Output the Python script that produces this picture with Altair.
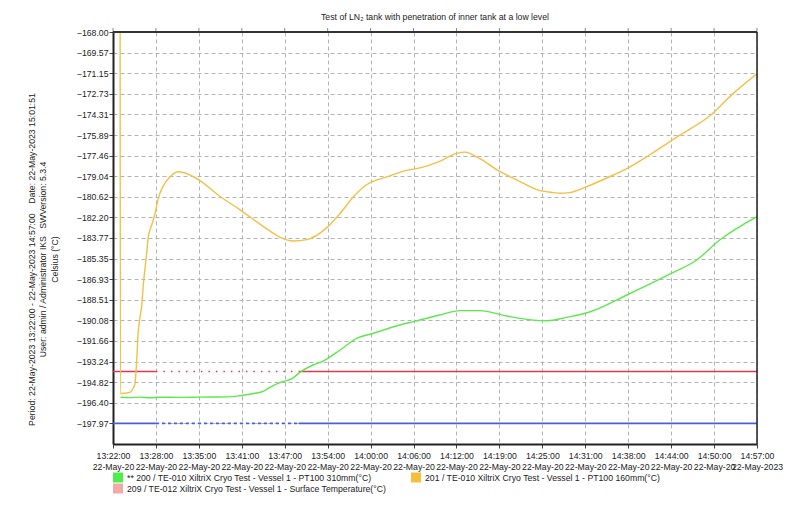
import altair as alt
import pandas as pd

FONT = "Liberation Sans"
FS = 8.7
NB = "\u00a0"

TITLE = "Test of LN\u2082 tank with penetration of inner tank at a low level"
INFO_LINES = [
    "Period: 22-May-2023 13:22:00 - 22-May-2023 14:57:00" + NB * 4 + "Date: 22-May-2023 15:01:51",
    "User: admin / Administrator IKS" + NB * 3 + "SWVersion: 5.3.4",
    "Celsius (\u00b0C)",
]

SERIES = [
    "** 200 / TE-010 XiltriX Cryo Test - Vessel 1 - PT100 310mm(\u00b0C)",
    "201 / TE-010 XiltriX Cryo Test - Vessel 1 - PT100 160mm(\u00b0C)",
    "209 / TE-012 XiltriX Cryo Test - Vessel 1 - Surface Temperature(\u00b0C)",
]
LINE_COLORS = ["#5ee84f", "#f2c046", "#f4a7a7"]
SWATCH_COLORS = ["#4cee4c", "#f5bf3e", "#f4a9a9"]
# legend reads column by column: 200 and 209 in the first column, 201 in the second
LEGEND_ORDER = [0, 2, 1]

# x axis: minutes after 13:22:00
X_TIME_LABELS = ["13:22:00", "13:28:00", "13:35:00", "13:41:00", "13:47:00", "13:54:00",
                 "14:00:00", "14:06:00", "14:12:00", "14:19:00", "14:25:00", "14:31:00",
                 "14:38:00", "14:44:00", "14:50:00", "14:57:00"]
X_DATE_LABELS = ["22-May-20"] * 15 + ["22-May-2023"]
X_SPAN = 95.0

Y_TICK_LABELS = ["-168.00", "-169.57", "-171.15", "-172.73", "-174.31", "-175.89", "-177.46",
                 "-179.04", "-180.62", "-182.20", "-183.77", "-185.35", "-186.93", "-188.51",
                 "-190.08", "-191.66", "-193.24", "-194.82", "-196.40", "-197.97"]
Y_MIN, Y_MAX = -199.55, -168.0

# series 200 (PT100 310mm)
green_t = [1.1, 2.5, 4.0, 5.5, 6.9, 9.9, 12.8, 16.8, 18.7, 20.6, 22.0, 23.2, 24.9, 26.4,
           27.6, 29.5, 31.0, 33.5, 36.0, 38.4, 42.3, 44.3, 48.2, 51.2, 54.1, 58.1, 62.0,
           64.0, 66.9, 70.4, 75.8, 82.2, 86.1, 89.5, 95.0]
green_v = [-195.97, -196.0, -195.96, -196.01, -195.97, -195.98, -195.96, -195.94, -195.85,
           -195.7, -195.55, -195.2, -194.8, -194.55, -194.05, -193.5, -193.2, -192.35,
           -191.45, -191.07, -190.44, -190.18, -189.67, -189.34, -189.34, -189.75, -190.06,
           -190.11, -189.85, -189.42, -188.14, -186.53, -185.46, -183.93, -182.14]

# series 201 (PT100 160mm)
orange_t = [1.05, 1.1, 1.9, 2.5, 2.95, 3.25, 3.5, 3.7, 4.0, 4.25, 4.5, 5.0, 5.2, 5.7, 6.2,
            6.7, 7.4, 8.4, 9.6, 10.6, 12.6, 15.8, 18.7, 22.2, 24.6, 26.6, 28.6, 31.5, 33.5,
            35.5, 37.4, 40.4, 43.3, 45.3, 48.2, 50.7, 51.9, 54.1, 57.1, 59.1, 63.0, 65.0,
            65.9, 67.4, 69.6, 73.8, 76.0, 79.2, 83.6, 88.1, 91.5, 95.0]
orange_v = [-168.0, -195.7, -195.65, -195.6, -195.3, -194.9, -193.1, -191.1, -189.8, -188.9,
            -187.2, -184.8, -183.7, -182.8, -181.9, -180.7, -179.8, -179.1, -178.7, -178.8,
            -179.3, -180.6, -181.6, -182.9, -183.7, -184.0, -183.9, -183.0, -181.9, -180.6,
            -179.7, -179.1, -178.6, -178.4, -177.9, -177.3, -177.2, -177.7, -178.7, -179.2,
            -180.15, -180.3, -180.35, -180.3, -179.9, -178.95, -178.4, -177.4, -175.9,
            -174.4, -172.7, -171.2]

# alarm limits
LIMIT_VALUES = [-194.0, -197.97]
LIMIT_COLORS = ["#e3374f", "#4a5fdc"]
LIMIT_DOT_STYLE = ["reddot", "bluedot"]
LIMIT_BREAKS = [0.0, 6.33, 27.4, 95.0]

# ---------------------------------------------------------------- tables
rows = []
for t, v in zip(green_t, green_v):
    rows.append({"series": SERIES[0], "t": t, "v": v})
for t, v in zip(orange_t, orange_v):
    rows.append({"series": SERIES[1], "t": t, "v": v})
lines_df = pd.DataFrame(rows)

lim_rows = []
for val, col, dot in zip(LIMIT_VALUES, LIMIT_COLORS, LIMIT_DOT_STYLE):
    styles = ["solid", dot, "solid"]
    for i in range(3):
        lim_rows.append({"v": val, "t0": LIMIT_BREAKS[i], "t1": LIMIT_BREAKS[i + 1],
                         "color": col, "style": styles[i]})
lim_df = pd.DataFrame(lim_rows)

x_ticks = [i * X_SPAN / 15 for i in range(16)]
y_ticks = [float(s) for s in Y_TICK_LABELS]
ticks_df = pd.DataFrame({"t": x_ticks})
legend_names = [SERIES[i] for i in LEGEND_ORDER]
legend_colors = [SWATCH_COLORS[i] for i in LEGEND_ORDER]
legend_df = pd.DataFrame({"name": legend_names})
title_df = pd.DataFrame({"label": [TITLE]})

time_arr = "[" + ",".join("'%s'" % s for s in X_TIME_LABELS) + "]"
date_arr = "[" + ",".join("'%s'" % s for s in X_DATE_LABELS) + "]"
idx = "round(datum.value*15/%s)" % X_SPAN
label_expr = "[%s[%s], %s[%s]]" % (time_arr, idx, date_arr, idx)

x_scale = alt.Scale(domain=[0, X_SPAN], nice=False, zero=False)
y_scale = alt.Scale(domain=[Y_MIN, Y_MAX], nice=False, zero=False)

x_axis = alt.Axis(values=x_ticks, labelExpr=label_expr, title=None, grid=True,
                  gridDash=[4, 3], gridColor="#b4b4b4", gridWidth=1,
                  tickSize=4, tickColor="#444", domainColor="#222", domainWidth=2,
                  labelFont=FONT, labelFontSize=FS, labelColor="#222", labelPadding=3,
                  labelLineHeight=11.5, labelOverlap=False, labelFlush=False,
                  labelBaseline="top")
y_axis = alt.Axis(values=y_ticks, format=".2f", grid=True, gridDash=[4, 3],
                  gridColor="#b4b4b4", gridWidth=1, tickSize=4, tickColor="#444",
                  domainColor="#222", domainWidth=2, labelFont=FONT, labelFontSize=FS,
                  labelColor="#222", labelPadding=1, labelOverlap=False, labelFlush=False,
                  title=INFO_LINES, titleAngle=270, titleX=-86, titleY=227,
                  titleAlign="center", titleBaseline="top", titleFont=FONT,
                  titleFontSize=FS, titleFontWeight="normal", titleColor="#222",
                  titleLineHeight=11.5)

base_x = alt.X("t:Q", scale=x_scale, axis=x_axis)
base_y = alt.Y("v:Q", scale=y_scale, axis=y_axis)

limits = alt.Chart(lim_df).mark_rule(strokeWidth=1.6).encode(
    x=alt.X("t0:Q", scale=x_scale, axis=x_axis),
    x2="t1:Q",
    y=alt.Y("v:Q", scale=y_scale, axis=y_axis),
    color=alt.Color("color:N", scale=None),
    strokeDash=alt.StrokeDash("style:N", legend=None,
                              scale=alt.Scale(domain=["solid", "reddot", "bluedot"],
                                              range=[[1, 0], [1.5, 6], [3, 3]])),
)

lines = alt.Chart(lines_df).mark_line(strokeWidth=1.4, clip=True,
                                      interpolate="monotone").encode(
    x=base_x,
    y=base_y,
    stroke=alt.Stroke("series:N", legend=None,
                      scale=alt.Scale(domain=SERIES, range=LINE_COLORS)),
    order="t:Q",
)

top_ticks = alt.Chart(ticks_df).mark_rule(color="#888", strokeWidth=1).encode(
    x=alt.X("t:Q", scale=x_scale, axis=x_axis),
    y=alt.value(-4),
    y2=alt.value(0),
)

frame = alt.Chart(pd.DataFrame({"v": [Y_MAX]})).mark_rule(color="#333", strokeWidth=2).encode(
    y=alt.Y("v:Q", scale=y_scale, axis=y_axis),
)
frame_r = alt.Chart(pd.DataFrame({"t": [X_SPAN]})).mark_rule(color="#222", strokeWidth=1.5).encode(
    x=alt.X("t:Q", scale=x_scale, axis=x_axis),
)

title_layer = alt.Chart(title_df).mark_text(font=FONT, fontSize=FS, color="#222",
                                            align="center", baseline="middle").encode(
    text="label:N",
    x=alt.value(322),
    y=alt.value(-15),
)

legend_layer = alt.Chart(legend_df).mark_square(size=100, filled=True, opacity=0).encode(
    x=alt.value(0),
    y=alt.value(0),
    fill=alt.Fill("name:N",
                  scale=alt.Scale(domain=legend_names, range=legend_colors),
                  legend=alt.Legend(orient="none", legendX=0, legendY=440.5, columns=2,
                                    title=None, symbolType="square", symbolSize=100,
                                    symbolStrokeWidth=0, symbolOpacity=1,
                                    labelFont=FONT, labelFontSize=FS,
                                    labelColor="#222", labelLimit=400, columnPadding=24,
                                    rowPadding=1, labelOffset=4, padding=0)),
)

chart = alt.layer(limits, lines, top_ticks, frame, frame_r, title_layer,
                  legend_layer).properties(
    width=644, height=412,
    autosize=alt.AutoSizeParams(type="none"),
    padding={"left": 105, "top": 24, "right": 35, "bottom": 60},
).configure_view(stroke=None).configure(background="white")

chart.save("out.html", embed_options={"renderer": "svg", "actions": False})
